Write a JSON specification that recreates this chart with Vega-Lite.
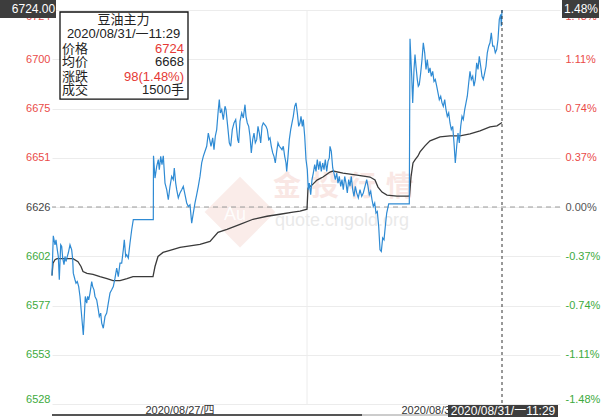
{
  "$schema": "https://vega.github.io/schema/vega-lite/v6.json",
  "autosize": {"type": "none"},
  "width": 508,
  "height": 394,
  "padding": {"left": 52, "top": 10, "right": 44, "bottom": 13},
  "background": "white",
  "config": {"view": {"stroke": null}, "font": "Liberation Sans, Noto Sans CJK SC"},
  "datasets": {
    "price": [
      {"t":0,"p":6591.9},{"t":1.3,"p":6611.7},{"t":3,"p":6607.2},{"t":4,"p":6609.7},{"t":5.3,"p":6604.7},{"t":6.3,"p":6601.4},{"t":7.3,"p":6589.8},{"t":8.7,"p":6607.2},{"t":9.7,"p":6606.4},{"t":10.7,"p":6600.6},{"t":12,"p":6597.3},{"t":13,"p":6601.4},{"t":14,"p":6598.9},{"t":15.3,"p":6601.4},{"t":16.3,"p":6603.1},{"t":18,"p":6607.2},{"t":19.7,"p":6604.7},{"t":20.7,"p":6599.8},{"t":21.3,"p":6593.1},{"t":23,"p":6589.8},{"t":24,"p":6588.1},{"t":25.3,"p":6588.9},{"t":26.7,"p":6586.4},{"t":28,"p":6581.5},{"t":29.7,"p":6571.5},{"t":31.3,"p":6562.4},{"t":32.3,"p":6571.5},{"t":33.3,"p":6581.5},{"t":34.7,"p":6578.2},{"t":35.7,"p":6581.5},{"t":36.7,"p":6579.8},{"t":38,"p":6583.2},{"t":39.7,"p":6588.9},{"t":40.7,"p":6586.4},{"t":42,"p":6584.8},{"t":43,"p":6581.5},{"t":44.7,"p":6579.8},{"t":46.3,"p":6574.9},{"t":47.3,"p":6571.5},{"t":48.7,"p":6573.2},{"t":49.7,"p":6568.2},{"t":51.3,"p":6565.7},{"t":53,"p":6571.5},{"t":54.7,"p":6573.2},{"t":56.3,"p":6578.2},{"t":58,"p":6583.2},{"t":59.7,"p":6584.8},{"t":61.3,"p":6586.4},{"t":63,"p":6590.6},{"t":64.7,"p":6595.6},{"t":66.3,"p":6591.4},{"t":68,"p":6598.1},{"t":69.7,"p":6598.1},{"t":71.3,"p":6604.7},{"t":72.3,"p":6609.7},{"t":73.7,"p":6601.4},{"t":74.7,"p":6602.2},{"t":76.3,"p":6600.6},{"t":78,"p":6608.1},{"t":79.7,"p":6614.7},{"t":81.3,"p":6619.7},{"t":101.3,"p":6619.7},
      {"t":101.5,"p":6651.5},{"t":103,"p":6640.4},{"t":104.7,"p":6646.2},{"t":106.3,"p":6649.6},{"t":107.3,"p":6644.6},{"t":108.7,"p":6651.2},{"t":110,"p":6647.1},{"t":111.3,"p":6651.5},{"t":113,"p":6637.9},{"t":114.7,"p":6634.6},{"t":116.3,"p":6629.6},{"t":118,"p":6636.3},{"t":119.7,"p":6641.2},{"t":121.3,"p":6639.6},{"t":122.3,"p":6645.4},{"t":123.7,"p":6637.9},{"t":124.7,"p":6634.6},{"t":126.3,"p":6630.5},{"t":128,"p":6633.0},{"t":129.7,"p":6634.6},{"t":131.3,"p":6636.3},{"t":133,"p":6632.1},{"t":134.7,"p":6628.0},{"t":136.3,"p":6626.3},{"t":138,"p":6627.1},{"t":139.7,"p":6618.0},{"t":141.3,"p":6623.0},{"t":143,"p":6628.0},{"t":144.7,"p":6632.1},{"t":146.3,"p":6636.3},{"t":148,"p":6641.2},{"t":149.7,"p":6647.9},{"t":151.3,"p":6651.2},{"t":153,"p":6653.7},{"t":154.7,"p":6656.2},{"t":156.3,"p":6662.8},{"t":158,"p":6658.7},{"t":159,"p":6656.2},{"t":160.7,"p":6660.4},{"t":162,"p":6654.5},{"t":163.3,"p":6661.2},{"t":164.7,"p":6664.5},{"t":166.3,"p":6674.4},{"t":167.3,"p":6679.4},{"t":168.3,"p":6672.8},{"t":169.7,"p":6674.4},{"t":171.3,"p":6669.5},{"t":173,"p":6676.1},{"t":174,"p":6674.4},{"t":175.7,"p":6666.1},{"t":177.3,"p":6657.9},{"t":178.7,"p":6656.2},{"t":180.3,"p":6664.5},{"t":182,"p":6667.8},{"t":183.7,"p":6669.5},{"t":184.7,"p":6664.5},{"t":185.7,"p":6659.5},{"t":186.7,"p":6657.9},{"t":188,"p":6668.6},{"t":189.7,"p":6672.8},{"t":191.3,"p":6670.3},{"t":193,"p":6676.9},{"t":194,"p":6671.1},{"t":195.3,"p":6667.8},{"t":196.7,"p":6666.1},{"t":198,"p":6661.2},{"t":199.3,"p":6652.9},{"t":200.7,"p":6659.5},{"t":202,"p":6662.8},{"t":203.3,"p":6657.9},{"t":204.7,"p":6659.5},{"t":206,"p":6666.1},{"t":207.3,"p":6662.8},{"t":208.7,"p":6657.9},{"t":210,"p":6666.1},{"t":211.3,"p":6667.8},{"t":212.7,"p":6667.0},{"t":214,"p":6666.1},{"t":215.3,"p":6664.5},{"t":216.7,"p":6659.5},{"t":218,"p":6660.4},{"t":219.3,"p":6656.2},{"t":220.7,"p":6652.9},{"t":222,"p":6651.2},{"t":223.3,"p":6647.9},{"t":224.7,"p":6653.7},{"t":226,"p":6657.9},{"t":227.3,"p":6656.2},{"t":228.7,"p":6655.4},{"t":230,"p":6654.5},{"t":231.3,"p":6656.2},{"t":232.7,"p":6651.2},{"t":234,"p":6647.9},{"t":234.7,"p":6643.7},{"t":236,"p":6651.2},{"t":237.3,"p":6659.5},{"t":238.7,"p":6664.5},{"t":240,"p":6667.8},{"t":241.3,"p":6671.1},{"t":242.7,"p":6676.1},{"t":244,"p":6677.8},{"t":245.3,"p":6672.8},{"t":246.7,"p":6666.1},{"t":248,"p":6667.8},
      {"t":249,"p":6671.1},{"t":250.3,"p":6666.1},{"t":251.3,"p":6669.5},{"t":252.7,"p":6661.2},{"t":254,"p":6649.6},{"t":255.3,"p":6644.6},{"t":256.3,"p":6634.6},{"t":257.3,"p":6637.9},{"t":258.7,"p":6632.1},{"t":260,"p":6639.6},{"t":261.3,"p":6642.9},{"t":262.7,"p":6647.1},{"t":264,"p":6643.7},{"t":265.3,"p":6649.6},{"t":266.7,"p":6644.6},{"t":268,"p":6648.7},{"t":269.3,"p":6643.7},{"t":270.7,"p":6647.9},{"t":272,"p":6644.6},{"t":273.3,"p":6649.6},{"t":274.7,"p":6643.7},{"t":276,"p":6648.7},{"t":277.3,"p":6650.4},{"t":278,"p":6656.2},{"t":279.3,"p":6653.7},{"t":280.7,"p":6645.4},{"t":282,"p":6642.9},{"t":283.3,"p":6639.6},{"t":284.7,"p":6642.9},{"t":286,"p":6637.9},{"t":287.3,"p":6641.2},{"t":288.7,"p":6636.3},{"t":290,"p":6639.6},{"t":291.3,"p":6634.6},{"t":292.7,"p":6641.2},{"t":294,"p":6637.9},{"t":295.3,"p":6633.0},{"t":296.7,"p":6639.6},{"t":298,"p":6636.3},{"t":299.3,"p":6641.2},{"t":300.7,"p":6634.6},{"t":302,"p":6631.3},{"t":303.3,"p":6636.3},{"t":304.7,"p":6633.0},{"t":306.3,"p":6630.5},{"t":308,"p":6634.6},{"t":309.7,"p":6631.3},{"t":311.3,"p":6633.0},{"t":313,"p":6636.3},{"t":314.7,"p":6639.6},{"t":316,"p":6636.3},{"t":317.3,"p":6632.1},{"t":318.7,"p":6633.8},{"t":320,"p":6629.6},{"t":321.3,"p":6626.3},{"t":322.7,"p":6628.0},{"t":324,"p":6623.0},{"t":325.3,"p":6623.8},{"t":326.7,"p":6616.3},{"t":328,"p":6604.7},{"t":329.3,"p":6603.9},{"t":330.7,"p":6610.6},{"t":332,"p":6609.7},{"t":333.3,"p":6616.3},{"t":334.7,"p":6623.0},{"t":336.7,"p":6627.6},{"t":357.3,"p":6627.6},
      {"t":358,"p":6709.7},{"t":359.7,"p":6691.0},{"t":360.7,"p":6677.8},{"t":362,"p":6694.4},{"t":363,"p":6701.8},{"t":364,"p":6696.0},{"t":365.3,"p":6689.4},{"t":366.3,"p":6686.1},{"t":367.3,"p":6686.9},{"t":368.7,"p":6692.7},{"t":370,"p":6699.3},{"t":371.3,"p":6707.7},{"t":372.7,"p":6702.7},{"t":374,"p":6694.4},{"t":375.3,"p":6699.3},{"t":376.7,"p":6692.7},{"t":378,"p":6695.2},{"t":379.3,"p":6691.0},{"t":380.7,"p":6693.5},{"t":382,"p":6688.5},{"t":383.3,"p":6689.4},{"t":384.7,"p":6686.1},{"t":386,"p":6682.8},{"t":387.3,"p":6679.4},{"t":388.7,"p":6681.1},{"t":390,"p":6677.8},{"t":391.3,"p":6676.1},{"t":392.7,"p":6679.4},{"t":394,"p":6674.4},{"t":395.3,"p":6671.1},{"t":396.7,"p":6672.8},{"t":398,"p":6667.8},{"t":399.3,"p":6664.5},{"t":400.7,"p":6666.1},{"t":402,"p":6657.9},{"t":403.3,"p":6647.9},{"t":404.7,"p":6656.2},{"t":406,"p":6662.8},{"t":407.3,"p":6657.9},{"t":408.7,"p":6666.1},{"t":410,"p":6671.1},{"t":411.3,"p":6669.5},{"t":412.7,"p":6674.4},{"t":414,"p":6677.8},{"t":415.3,"p":6681.1},{"t":416.7,"p":6687.7},{"t":418,"p":6693.5},{"t":419.3,"p":6689.4},{"t":420.7,"p":6691.0},{"t":422,"p":6686.1},{"t":423.3,"p":6689.4},{"t":424.7,"p":6697.7},{"t":426,"p":6694.4},{"t":427.3,"p":6701.0},{"t":428.7,"p":6696.0},{"t":430,"p":6691.0},{"t":431.3,"p":6689.4},{"t":432.7,"p":6692.7},{"t":434,"p":6696.0},{"t":435.3,"p":6702.7},{"t":436.7,"p":6706.0},{"t":438,"p":6707.7},{"t":439.3,"p":6712.6},{"t":440.7,"p":6706.0},{"t":442,"p":6706.0},{"t":443.3,"p":6702.7},{"t":444.7,"p":6704.3},{"t":446,"p":6709.3},{"t":447.3,"p":6719.3},{"t":448.7,"p":6721.8},{"t":449.3,"p":6715.9},{"t":450,"p":6724}
    ],
    "avg": [
      {"t":0,"a":6591.9},{"t":1,"a":6598.1},{"t":3,"a":6599.8},{"t":5,"a":6600.3},{"t":15,"a":6600.3},{"t":21,"a":6600.3},{"t":26,"a":6598.8},{"t":29,"a":6596.4},{"t":31,"a":6593.9},{"t":35,"a":6593.0},{"t":41,"a":6592.5},{"t":48,"a":6591.4},{"t":55,"a":6590.4},{"t":61,"a":6589.4},{"t":68,"a":6589.4},{"t":75,"a":6590.4},{"t":81,"a":6591.4},{"t":101,"a":6591.4},{"t":103,"a":6596.4},{"t":106,"a":6601.4},{"t":111,"a":6603.4},{"t":118,"a":6604.4},{"t":128,"a":6605.9},{"t":148,"a":6607.4},{"t":158,"a":6608.9},{"t":166,"a":6613.4},{"t":175,"a":6614.9},{"t":188,"a":6617.4},{"t":201,"a":6619.9},{"t":215,"a":6621.4},{"t":228,"a":6622.4},{"t":241,"a":6623.4},{"t":248,"a":6624.0},{"t":255,"a":6624.9},{"t":256,"a":6635.4},{"t":260,"a":6636.9},{"t":265,"a":6639.4},{"t":271,"a":6640.9},{"t":278,"a":6643.4},{"t":281,"a":6643.9},{"t":291,"a":6642.9},{"t":305,"a":6641.9},{"t":318,"a":6640.9},{"t":323,"a":6639.4},{"t":326,"a":6635.9},{"t":330,"a":6633.4},{"t":335,"a":6631.9},{"t":345,"a":6631.4},{"t":357.5,"a":6631.4},{"t":359,"a":6641.0},{"t":361,"a":6647.9},{"t":363,"a":6649.4},{"t":366,"a":6651.4},{"t":368,"a":6653.4},{"t":373,"a":6656.4},{"t":378,"a":6658.9},{"t":388,"a":6660.9},{"t":398,"a":6661.4},{"t":408,"a":6661.4},{"t":418,"a":6662.4},{"t":428,"a":6663.9},{"t":438,"a":6665.9},{"t":445,"a":6666.4},{"t":450,"a":6668}
    ]
  },
  "resolve": {"axis": {"y": "independent"}},
  "layer": [
    {
      "data": {"values": [{"t": 188, "p": 6623.5}]},
      "mark": {"type": "point", "shape": "diamond", "filled": true, "size": 5000, "color": "#f3cfc9", "opacity": 0.4},
      "encoding": {
        "x": {"field": "t", "type": "quantitative", "axis": null, "scale": {"domain": [0, 508], "nice": false, "zero": false}},
        "y": {"field": "p", "type": "quantitative", "axis": null, "scale": {"domain": [6528, 6724], "nice": false, "zero": false}}
      }
    },
    {
      "data": {"values": [{"t": 183, "p": 6622, "s": "Au"}]},
      "mark": {"type": "text", "fontSize": 18, "color": "#ffffff", "opacity": 0.9, "baseline": "middle"},
      "encoding": {
        "x": {"field": "t", "type": "quantitative", "axis": null, "scale": {"domain": [0, 508], "nice": false, "zero": false}},
        "y": {"field": "p", "type": "quantitative", "axis": null, "scale": {"domain": [6528, 6724], "nice": false, "zero": false}},
        "text": {"field": "s"}
      }
    },
    {
      "data": {"values": [{"t": 235, "p": 6635.5, "s": "金"}, {"t": 273, "p": 6635.5, "s": "投"}, {"t": 310, "p": 6635.5, "s": "行"}, {"t": 348, "p": 6635.5, "s": "情"}]},
      "mark": {"type": "text", "fontSize": 28, "font": "Noto Sans CJK SC", "fontWeight": "bold", "color": "#f2c4bd", "opacity": 0.4, "baseline": "middle"},
      "encoding": {
        "x": {"field": "t", "type": "quantitative", "axis": null, "scale": {"domain": [0, 508], "nice": false, "zero": false}},
        "y": {"field": "p", "type": "quantitative", "axis": null, "scale": {"domain": [6528, 6724], "nice": false, "zero": false}},
        "text": {"field": "s"}
      }
    },
    {
      "data": {"values": [{"t": 290, "p": 6619.0, "s": "quote.cngold.org"}]},
      "mark": {"type": "text", "fontSize": 18, "color": "#dcdcdc", "opacity": 0.6, "baseline": "middle"},
      "encoding": {
        "x": {"field": "t", "type": "quantitative", "axis": null, "scale": {"domain": [0, 508], "nice": false, "zero": false}},
        "y": {"field": "p", "type": "quantitative", "axis": null, "scale": {"domain": [6528, 6724], "nice": false, "zero": false}},
        "text": {"field": "s"}
      }
    },
    {
      "data": {"values": [{"t": 255}]},
      "mark": {"type": "rule", "color": "#ececec", "strokeWidth": 1},
      "encoding": {
        "x": {"field": "t", "type": "quantitative", "axis": null, "scale": {"domain": [0, 508], "nice": false, "zero": false}}
      }
    },
    {
      "data": {"values": [{"p": 6626}]},
      "mark": {"type": "rule", "color": "#9a9a9a", "strokeWidth": 1, "strokeDash": [5, 4]},
      "encoding": {
        "y": {"field": "p", "type": "quantitative", "axis": null, "scale": {"domain": [6528, 6724], "nice": false, "zero": false}}
      }
    },
    {
      "data": {"name": "avg"},
      "mark": {"type": "line", "color": "#3a3a3a", "strokeWidth": 1.3, "interpolate": "linear"},
      "encoding": {
        "x": {"field": "t", "type": "quantitative", "axis": null, "scale": {"domain": [0, 508], "nice": false, "zero": false}},
        "y": {
          "field": "a", "type": "quantitative",
          "scale": {"domain": [6528, 6724], "nice": false, "zero": false},
          "axis": {
            "orient": "right", "title": null, "grid": false, "domain": false, "ticks": false,
            "values": [6528, 6552.5, 6577, 6601.5, 6626, 6650.5, 6675, 6699.5, 6724],
            "labelFlush": true, "labelPadding": 5, "labelFontSize": 11, "labelFont": "Liberation Sans",
            "labelExpr": "(datum.value < 6626 ? '-' : '') + format(abs(datum.value - 6626) / 6626 * 100, '.2f') + '%'",
            "labelColor": {"expr": "datum.value > 6626 ? '#ea4b48' : datum.value < 6626 ? '#3daa3d' : '#555555'"}
          }
        }
      }
    },
    {
      "data": {"name": "price"},
      "mark": {"type": "line", "color": "#2f8bd4", "strokeWidth": 1.2, "interpolate": "linear"},
      "encoding": {
        "x": {"field": "t", "type": "quantitative", "axis": null, "scale": {"domain": [0, 508], "nice": false, "zero": false}},
        "y": {
          "field": "p", "type": "quantitative",
          "scale": {"domain": [6528, 6724], "nice": false, "zero": false},
          "axis": {
            "orient": "left", "title": null, "grid": true, "gridColor": "#ececec", "domain": false, "ticks": false,
            "values": [6528, 6552.5, 6577, 6601.5, 6626, 6650.5, 6675, 6699.5, 6724],
            "labelFlush": true, "labelPadding": 2, "labelFontSize": 11, "labelFont": "Liberation Sans",
            "labelExpr": "format(round(datum.value), 'd')",
            "labelColor": {"expr": "datum.value > 6626 ? '#ea4b48' : datum.value < 6626 ? '#3daa3d' : '#444444'"}
          }
        }
      }
    },
    {
      "data": {"values": [{"t": 450}]},
      "mark": {"type": "rule", "color": "#333333", "strokeWidth": 1, "strokeDash": [3, 3]},
      "encoding": {
        "x": {"field": "t", "type": "quantitative", "axis": null, "scale": {"domain": [0, 508], "nice": false, "zero": false}}
      }
    },
    {
      "data": {"values": [{"t": 0, "t2": 310, "p": 6522.5}]},
      "mark": {"type": "rule", "color": "#555555", "strokeWidth": 2},
      "encoding": {
        "x": {"field": "t", "type": "quantitative", "axis": null, "scale": {"domain": [0, 508], "nice": false, "zero": false}},
        "x2": {"field": "t2"},
        "y": {"field": "p", "type": "quantitative", "axis": null, "scale": {"domain": [6528, 6724], "nice": false, "zero": false}}
      }
    },
    {
      "data": {"values": [{"t": 310, "t2": 506, "p": 6522.5}]},
      "mark": {"type": "rule", "color": "#cccccc", "strokeWidth": 2},
      "encoding": {
        "x": {"field": "t", "type": "quantitative", "axis": null, "scale": {"domain": [0, 508], "nice": false, "zero": false}},
        "x2": {"field": "t2"},
        "y": {"field": "p", "type": "quantitative", "axis": null, "scale": {"domain": [6528, 6724], "nice": false, "zero": false}}
      }
    },
    {
      "data": {"values": [{"t": 128, "p": 6524.5, "s": "2020/08/27/四"}, {"t": 384, "p": 6524.5, "s": "2020/08/31/一"}]},
      "mark": {"type": "text", "fontSize": 11, "color": "#333333", "baseline": "middle", "align": "center"},
      "encoding": {
        "x": {"field": "t", "type": "quantitative", "axis": null, "scale": {"domain": [0, 508], "nice": false, "zero": false}},
        "y": {"field": "p", "type": "quantitative", "axis": null, "scale": {"domain": [6528, 6724], "nice": false, "zero": false}},
        "text": {"field": "s"}
      }
    },
    {
      "data": {"values": [{"t": 8, "t2": 136, "p": 6723.0, "p2": 6679.7}]},
      "mark": {"type": "rect", "fill": "#ffffff", "stroke": "#111111", "strokeWidth": 1.3},
      "encoding": {
        "x": {"field": "t", "type": "quantitative", "axis": null, "scale": {"domain": [0, 508], "nice": false, "zero": false}},
        "x2": {"field": "t2"},
        "y": {"field": "p", "type": "quantitative", "axis": null, "scale": {"domain": [6528, 6724], "nice": false, "zero": false}},
        "y2": {"field": "p2"}
      }
    },
    {
      "data": {"values": [{"t": 71.5, "p": 6719.0, "s": "豆油主力"}, {"t": 71.5, "p": 6712.1, "s": "2020/08/31/一11:29"}]},
      "mark": {"type": "text", "fontSize": 13, "color": "#222222", "baseline": "middle", "align": "center"},
      "encoding": {
        "x": {"field": "t", "type": "quantitative", "axis": null, "scale": {"domain": [0, 508], "nice": false, "zero": false}},
        "y": {"field": "p", "type": "quantitative", "axis": null, "scale": {"domain": [6528, 6724], "nice": false, "zero": false}},
        "text": {"field": "s"}
      }
    },
    {
      "data": {"values": [{"t": 10, "p": 6704.6, "s": "价格"}, {"t": 10, "p": 6697.9, "s": "均价"}, {"t": 10, "p": 6690.7, "s": "涨跌"}, {"t": 10, "p": 6684.0, "s": "成交"}]},
      "mark": {"type": "text", "fontSize": 13, "color": "#222222", "baseline": "middle", "align": "left"},
      "encoding": {
        "x": {"field": "t", "type": "quantitative", "axis": null, "scale": {"domain": [0, 508], "nice": false, "zero": false}},
        "y": {"field": "p", "type": "quantitative", "axis": null, "scale": {"domain": [6528, 6724], "nice": false, "zero": false}},
        "text": {"field": "s"}
      }
    },
    {
      "data": {"values": [{"t": 132, "p": 6704.6, "s": "6724"}, {"t": 132, "p": 6690.7, "s": "98(1.48%)"}]},
      "mark": {"type": "text", "fontSize": 13, "color": "#e53935", "baseline": "middle", "align": "right"},
      "encoding": {
        "x": {"field": "t", "type": "quantitative", "axis": null, "scale": {"domain": [0, 508], "nice": false, "zero": false}},
        "y": {"field": "p", "type": "quantitative", "axis": null, "scale": {"domain": [6528, 6724], "nice": false, "zero": false}},
        "text": {"field": "s"}
      }
    },
    {
      "data": {"values": [{"t": 132, "p": 6697.9, "s": "6668"}, {"t": 132, "p": 6684.0, "s": "1500手"}]},
      "mark": {"type": "text", "fontSize": 13, "color": "#222222", "baseline": "middle", "align": "right"},
      "encoding": {
        "x": {"field": "t", "type": "quantitative", "axis": null, "scale": {"domain": [0, 508], "nice": false, "zero": false}},
        "y": {"field": "p", "type": "quantitative", "axis": null, "scale": {"domain": [6528, 6724], "nice": false, "zero": false}},
        "text": {"field": "s"}
      }
    },
    {
      "data": {"values": [
        {"t": -52, "t2": 4, "p": 6729.0, "p2": 6720.0},
        {"t": 510, "t2": 547, "p": 6729.0, "p2": 6720.0},
        {"t": 396, "t2": 506, "p": 6527.5, "p2": 6521.5}
      ]},
      "mark": {"type": "rect", "fill": "#3d3d3d"},
      "encoding": {
        "x": {"field": "t", "type": "quantitative", "axis": null, "scale": {"domain": [0, 508], "nice": false, "zero": false}},
        "x2": {"field": "t2"},
        "y": {"field": "p", "type": "quantitative", "axis": null, "scale": {"domain": [6528, 6724], "nice": false, "zero": false}},
        "y2": {"field": "p2"}
      }
    },
    {
      "data": {"values": [
        {"t": -18.5, "p": 6724.5, "s": "6724.00"},
        {"t": 529, "p": 6724.5, "s": "1.48%"},
        {"t": 451, "p": 6524.5, "s": "2020/08/31/一11:29"}
      ]},
      "mark": {"type": "text", "fontSize": 12, "color": "#ffffff", "baseline": "middle", "align": "center"},
      "encoding": {
        "x": {"field": "t", "type": "quantitative", "axis": null, "scale": {"domain": [0, 508], "nice": false, "zero": false}},
        "y": {"field": "p", "type": "quantitative", "axis": null, "scale": {"domain": [6528, 6724], "nice": false, "zero": false}},
        "text": {"field": "s"}
      }
    }
  ]
}
